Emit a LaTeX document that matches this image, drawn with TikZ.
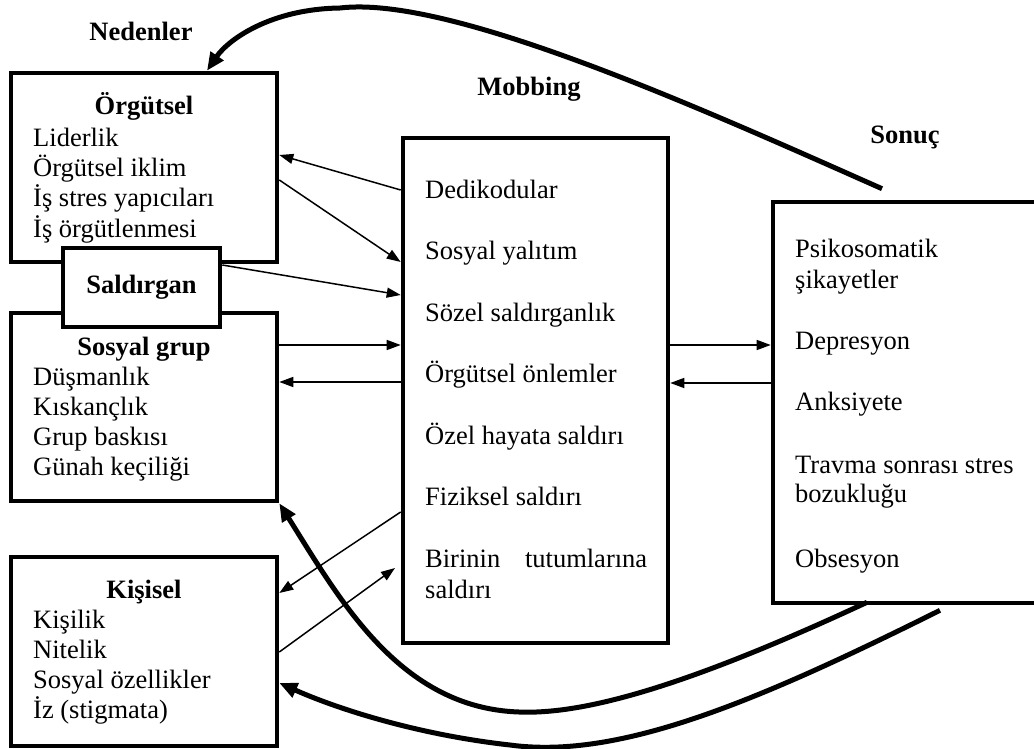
\documentclass[tikz,border=0pt]{standalone}
\usepackage{fontspec}
\setmainfont{Liberation Serif}
\usetikzlibrary{arrows.meta}
\tikzset{
x=1pt, y=-1pt, % picture measured in pixels, downwards
every node/.append style={inner sep=0pt, font=\fontsize{26.5pt}{30pt}\selectfont},
box/.style={draw, line width=4.6pt, fill=white}, % the framed boxes
boldtext/.style={font=\fontsize{26.5pt}{30pt}\selectfont\bfseries},
boxtitle/.style={boldtext, anchor=base},
entry/.style={anchor=base west},
link/.style={-{Triangle[length=14pt,width=10pt]}, line width=1.5pt}, % thin arrows
feedback/.style={-{Triangle[length=18pt,width=15pt]}, line width=5pt}, % thick curved arrows
}

\begin{document}
\begin{tikzpicture}
\useasboundingbox (0,0) rectangle (1034,749);

% boxes
\node[box, minimum width=266pt, minimum height=189pt] (org) at (144,167.5) {};
\node[box, minimum width=266pt, minimum height=188pt] (sos) at (144,407) {};
\node[box, minimum width=266pt, minimum height=189pt] (kis) at (144,651.5) {};
\node[box, boldtext, minimum width=157pt, minimum height=79pt] (sal) at (141.5,287.5) {Saldırgan};
\node[box, minimum width=265pt, minimum height=505pt] (mob) at (535.5,390.5) {};
\node[box, minimum width=272pt, minimum height=401pt] (son) at (909,402.5) {};

% headings
\node[boxtitle] (nedenler) at (141,41) {Nedenler};
\node[boxtitle] (mobbing) at (529,96) {Mobbing};
\node[boxtitle] (sonuc) at (905,144) {Sonuç};

% causes
\node[boxtitle] (orgT) at (144,115) {Örgütsel};
\foreach \t [count=\i] in {Liderlik, Örgütsel iklim, İş stres yapıcıları, İş örgütlenmesi}
  \node[entry] (org\i) at (33,{117+30*\i}) {\t};
\node[boxtitle] (sosT) at (144,355) {Sosyal grup};
\foreach \t [count=\i] in {Düşmanlık, Kıskançlık, Grup baskısı, Günah keçiliği}
  \node[entry] (sos\i) at (33,{355+30*\i}) {\t};
\node[boxtitle] (kisT) at (144,598) {Kişisel};
\foreach \t [count=\i] in {Kişilik, Nitelik, Sosyal özellikler, İz (stigmata)}
  \node[entry] (kis\i) at (33,{598+30*\i}) {\t};

% mobbing
\foreach \t [count=\i] in {Dedikodular, Sosyal yalıtım, Sözel saldırganlık, Örgütsel önlemler, Özel hayata saldırı, Fiziksel saldırı}
  \node[entry] (mob\i) at (425,{136.5+61.5*\i}) {\t};
\node[entry] (mob7) at (425,567) {\makebox[222pt][s]{Birinin tutumlarına}};
\node[entry] (mob8) at (425,598) {saldırı};

% results
\node[entry] (son1) at (795,257) {Psikosomatik};
\node[entry] (son2) at (795,288) {şikayetler};
\node[entry] (son3) at (795,349) {Depresyon};
\node[entry] (son4) at (795,410) {Anksiyete};
\node[entry] (son5) at (795,473) {Travma sonrası stres};
\node[entry] (son6) at (795,502) {bozukluğu};
\node[entry] (son7) at (795,567) {Obsesyon};

% thin arrows
\coordinate (kisend) at (395,568);
\draw[link] (mob.west |- 0,190) -- (org.east |- 0,155);
\draw[link] (org.east |- 0,180) -- (mob.west |- 0,262);
\draw[link] (sal.east |- 0,265) -- (mob.west |- 0,295);
\draw[link] (sos.east |- 0,345) -- (mob.west |- 0,345);
\draw[link] (mob.west |- 0,382) -- (sos.east |- 0,382);
\draw[link] (mob.west |- 0,512) -- (kis.east |- 0,593);
\draw[link] (kis.east |- 0,652) -- (kisend);
\draw[link] (mob.east |- 0,345) -- (son.west |- 0,345);
\draw[link] (son.west |- 0,383) -- (mob.east |- 0,383);

% thick feedback curves
\draw[feedback] ([xshift=-27pt,yshift=11pt]son.north) .. controls (700,108) and (450,-5) .. (340,8)
  .. controls (270,9) and (228,40) .. ([xshift=63pt]org.north);
\draw[feedback] ([xshift=-42pt,yshift=3pt]son.south) .. controls (700,680) and (590,715) .. (519,712)
  .. controls (400,708) and (340,600) .. (sos.south east);
\draw[feedback] ([xshift=31pt,yshift=-5pt]son.south) .. controls (760,700) and (620,760) .. (510,745)
  .. controls (420,735) and (340,710) .. (kis.east |- 0,683);
\end{tikzpicture}
\end{document}
